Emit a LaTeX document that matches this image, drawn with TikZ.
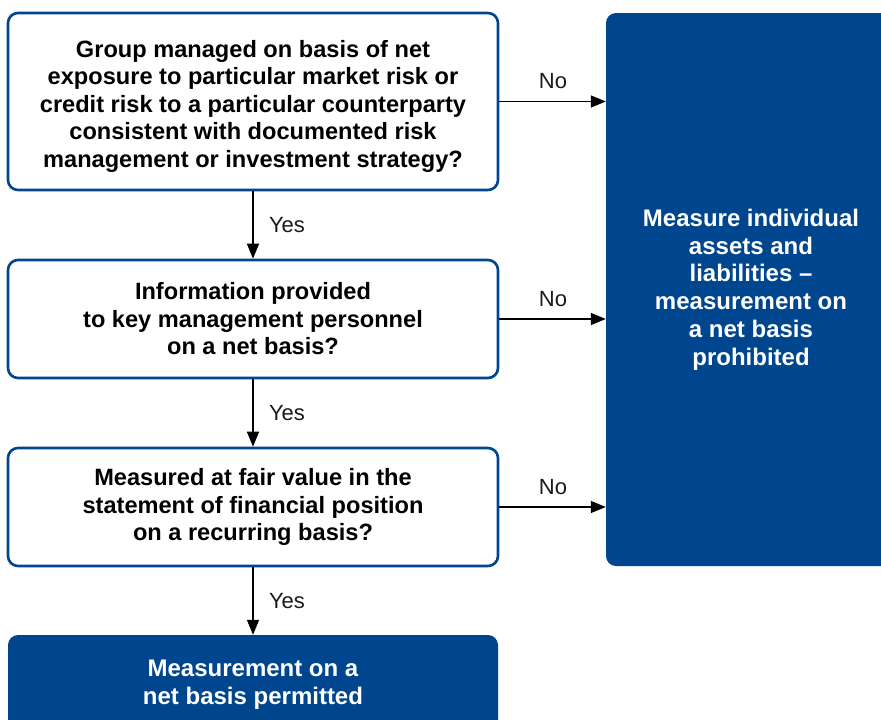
\documentclass[tikz,border=0pt]{standalone}
\usepackage{fontspec}
\setmainfont{Liberation Sans}
\usetikzlibrary{arrows.meta}
\definecolor{kblue}{HTML}{00468E}
\definecolor{txt}{HTML}{1A1A1A}
\tikzset{
  qbox/.style={draw=kblue, line width=2.6pt, fill=white, rounded corners=10pt, align=center,
    font=\fontsize{23.6}{27.5}\selectfont\bfseries, text=black, inner sep=0pt, minimum width=490pt},
  abox/.style={fill=kblue, rounded corners=10pt, align=center,
    font=\fontsize{24}{27.8}\selectfont\bfseries, text=white, inner sep=0pt},
  conn/.style={line width=1.4pt, draw=black, -{Triangle[length=15pt,width=12pt]}},
  lbl/.style={font=\fontsize{22}{26}\selectfont, text=txt, inner sep=0pt}
}
\begin{document}
\begin{tikzpicture}[x=1pt,y=1pt]
\clip (0,0) rectangle (881,-720);
\fill[white] (0,0) rectangle (881,-720);
\node[qbox, minimum height=177pt] (q1) at (253,-101.5) {\rule{0pt}{26pt}Group managed on basis of net\\exposure to particular market risk or\\credit risk to a particular counterparty\\consistent with documented risk\\management or investment strategy?};
\node[qbox, minimum height=118pt] (q2) at (253,-319) {Information provided\\to key management personnel\\on a net basis?};
\node[qbox, minimum height=118pt] (q3) at (253,-507) {Measured at fair value in the\\statement of financial position\\on a recurring basis?};
\node[abox, minimum width=490pt, minimum height=100pt] (yes) at (253,-685) {Measurement on a\\net basis permitted};
\node[abox, minimum width=290pt, minimum height=553pt] (no) at (751,-289.5) {Measure individual\\assets and\\liabilities --\\measurement on\\a net basis\\prohibited};
\coordinate (n1) at (no.west |- q1.east);
\coordinate (n2) at (no.west |- q2.east);
\coordinate (n3) at (no.west |- q3.east);
\draw[conn] (q1.south) -- (q2.north);
\draw[conn] (q2.south) -- (q3.north);
\draw[conn] (q3.south) -- (yes.north);
\draw[conn] (q1.east) -- (n1);
\draw[conn] (q2.east) -- (n2);
\draw[conn] (q3.east) -- (n3);
\node[lbl] (y1) at (287,-225) {Yes};
\node[lbl] (y2) at (287,-413) {Yes};
\node[lbl] (y3) at (287,-601) {Yes};
\node[lbl] (x1) at (553,-81) {No};
\node[lbl] (x2) at (553,-299) {No};
\node[lbl] (x3) at (553,-487) {No};
\end{tikzpicture}
\end{document}
